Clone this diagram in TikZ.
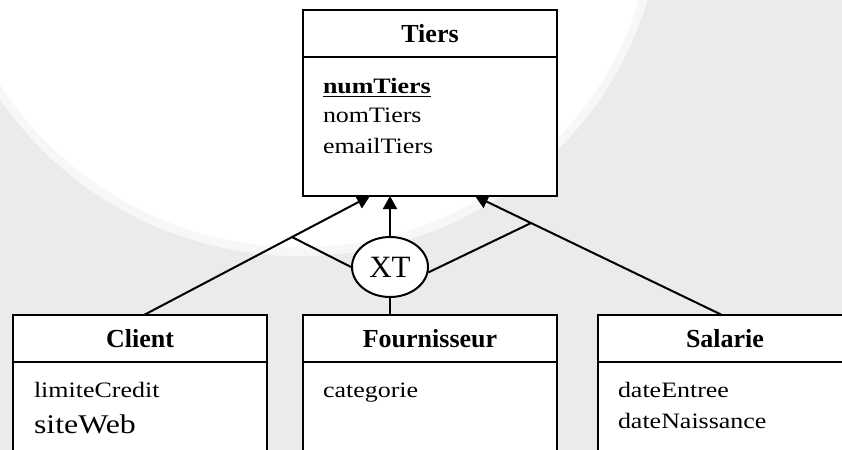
\documentclass[tikz,border=0pt]{standalone}
\usepackage{fontspec}
\setmainfont{Liberation Serif}
\newfontfamily\attrfont{Liberation Serif}[FakeStretch=1.18]
\usetikzlibrary{arrows.meta}
\usetikzlibrary{positioning}
\usetikzlibrary{shapes.geometric}
\definecolor{bggrey}{RGB}{235,235,235}
\tikzset{>={Triangle[length=6.5pt,width=7pt]}}
\tikzset{
	classhead/.style={draw, fill=white, minimum width=127pt, minimum height=23.5pt, inner sep=0pt, outer sep=0pt, font=\fontsize{13}{15}\selectfont\bfseries},
	classbody/.style={draw, fill=white, minimum width=127pt, inner sep=0pt, outer sep=0pt},
	attr/.style={anchor=base west, inner sep=0pt, font=\attrfont\fontsize{11}{13}\selectfont},
	xtnode/.style={draw, fill=white, ellipse, minimum width=38pt, minimum height=30pt, inner sep=0pt, font=\fontsize{15.5}{17}\selectfont}
}

\begin{document}
\begin{tikzpicture}[x=0.5pt,y=-0.5pt,line width=1pt]
		\useasboundingbox (0,0) rectangle (842,450);
		\clip (0,0) rectangle (842,450);
		% watermark background
		\fill[bggrey] (0,0) rectangle (842,450);
		\fill[bggrey!40!white] (300,-100) ellipse [x radius=362, y radius=356];
		\fill[white] (300,-100) ellipse [x radius=354, y radius=347];
		% super class
		\node[classhead] (tiers) at (430,33.5) {Tiers};
		\node[classbody, minimum height=69.5pt, below=0pt of tiers] (tiersbody) {};
		\node[attr] (numtiers) at (322,93) {\bfseries\underline{numTiers}};
		\node[attr] (nomtiers) at (322,122) {nomTiers};
		\node[attr] (emailtiers) at (322,153) {emailTiers};
		% sub classes
		\node[classhead] (client) at (140,338.5) {Client};
		\node[classbody, minimum height=60pt, below=0pt of client] (clientbody) {};
		\node[attr] (limitecredit) at (33,397) {limiteCredit};
		\node[attr, font=\attrfont\fontsize{13.5}{15}\selectfont] (siteweb) at (33,433) {siteWeb};
		\node[classhead] (fournisseur) at (430,338.5) {Fournisseur};
		\node[classbody, minimum height=60pt, below=0pt of fournisseur] (fournisseurbody) {};
		\node[attr] (categorie) at (322,397) {categorie};
		\node[classhead] (salarie) at (725,338.5) {Salarie};
		\node[classbody, minimum height=60pt, below=0pt of salarie] (salariebody) {};
		\node[attr] (dateentree) at (617,397) {dateEntree};
		\node[attr] (datenaissance) at (617,428) {dateNaissance};
		% constraint
		\node[xtnode] (xt) at (390,267) {XT};
		% inheritance
		\draw[->] ([xshift=2pt]client.north) -- coordinate[pos=0.655] (lbr) ([xshift=-30pt]tiersbody.south);
		\draw[->] ([xshift=-1.5pt]salarie.north) -- coordinate[pos=0.773] (rbr) ([xshift=22.5pt]tiersbody.south);
		\draw[->] (xt.north) -- (xt.north |- tiersbody.south);
		\draw (xt.south) -- (xt.south |- fournisseur.north);
		\draw (lbr) -- (xt.west);
		\draw (rbr) -- (xt.-8);
	\end{tikzpicture}
\end{document}
